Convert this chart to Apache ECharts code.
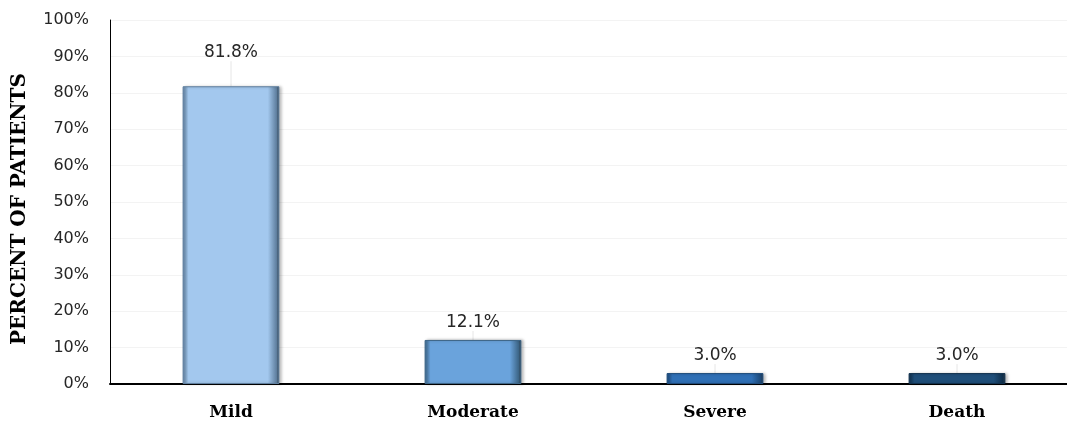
<!DOCTYPE html>
<html>
<head>
<meta charset="utf-8">
<script src="https://cdn.jsdelivr.net/npm/echarts@6/dist/echarts.min.js"></script>
<style>
  html, body { margin: 0; padding: 0; background: #ffffff; }
  #chart { width: 1067px; height: 424px; }
</style>
</head>
<body>
<div id="chart"></div>
<script>
// Outcome categories and the share of patients in each
const categories = ['Mild', 'Moderate', 'Severe', 'Death'];
const percentValues = [81.8, 12.1, 3.0, 3.0];
const barColors = ['#a3c8ee', '#6aa3dc', '#2f6fb5', '#1f4e79'];
const darkEdges = ['#5f7f9f', '#3d6688', '#1d4a7a', '#10304d'];

// Horizontal shading that gives each bar a bevelled look
function bevelFill(base, dark) {
  return new echarts.graphic.LinearGradient(0, 0, 1, 0, [
    { offset: 0, color: dark },
    { offset: 0.06, color: base },
    { offset: 0.88, color: base },
    { offset: 0.97, color: dark },
    { offset: 1, color: '#2b3a48' }
  ]);
}

const chart = echarts.init(document.getElementById('chart'));

chart.setOption({
  animation: false,
  grid: {
    left: 110, right: -11, top: 20, bottom: 40,
    containLabel: false,
    outerBoundsMode: 'none'
  },
  xAxis: {
    type: 'category',
    data: categories,
    axisLine: { lineStyle: { color: '#000000', width: 2 } },
    axisTick: { show: false },
    axisLabel: {
      margin: 20,
      fontFamily: 'DejaVu Serif',
      fontWeight: 'bold',
      fontSize: 17,
      color: '#000000'
    }
  },
  yAxis: {
    type: 'value',
    min: 0,
    max: 100,
    interval: 10,
    name: 'PERCENT OF PATIENTS',
    nameLocation: 'middle',
    nameGap: 80,
    nameTextStyle: {
      fontFamily: 'DejaVu Serif',
      fontWeight: 'bold',
      fontSize: 20,
      color: '#000000',
      padding: [0, 14, 0, 0]
    },
    axisLine: { show: true, lineStyle: { color: '#000000', width: 1 } },
    axisTick: { show: false },
    splitLine: { lineStyle: { color: '#f3f3f3' } },
    axisLabel: {
      formatter: '{value}%',
      margin: 21,
      fontFamily: 'DejaVu Sans',
      fontSize: 16,
      color: '#262626'
    }
  },
  series: [{
    type: 'bar',
    barWidth: '40%',
    data: percentValues.map((v, i) => ({
      value: v,
      itemStyle: {
        color: bevelFill(barColors[i], darkEdges[i]),
        borderColor: darkEdges[i],
        borderWidth: 1,
        shadowColor: 'rgba(0,0,0,0.25)',
        shadowBlur: 3,
        shadowOffsetX: 2
      }
    })),
    label: {
      show: true,
      position: 'top',
      distance: 9,
      formatter: (p) => p.value.toFixed(1) + '%',
      fontFamily: 'DejaVu Sans',
      fontSize: 17,
      color: '#262626'
    },
    labelLine: { show: true, lineStyle: { color: '#e6e6e6', width: 1 } },
    labelLayout: (params) => (params.dataIndex === 0 ? { dy: -16 } : {})
  }]
});
</script>
</body>
</html>
